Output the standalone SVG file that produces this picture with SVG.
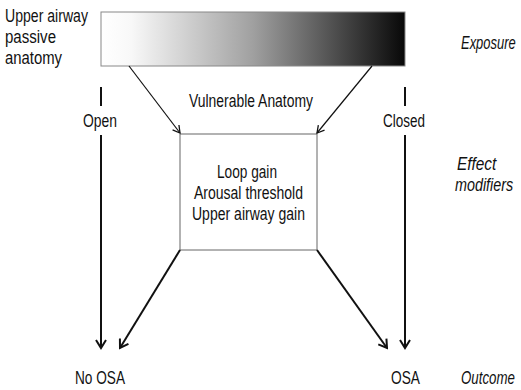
<svg xmlns="http://www.w3.org/2000/svg" width="521" height="390" viewBox="0 0 521 390">
<defs>
<linearGradient id="grad" x1="0" y1="0" x2="1" y2="0">
<stop offset="0" stop-color="#ffffff"/>
<stop offset="0.1" stop-color="#f8f8f8"/>
<stop offset="0.5" stop-color="#a0a0a0"/>
<stop offset="1" stop-color="#080808"/>
</linearGradient>
<marker id="ah" markerWidth="12" markerHeight="12" refX="10" refY="6" orient="auto" markerUnits="userSpaceOnUse">
<path d="M2,1 L10,6 L2,11" fill="none" stroke="#111" stroke-width="2"/>
</marker>
<marker id="ahs" markerWidth="12" markerHeight="12" refX="10" refY="6" orient="auto" markerUnits="userSpaceOnUse">
<path d="M3,2 L10,6 L3,10" fill="none" stroke="#111" stroke-width="1.3"/>
</marker>
</defs>
<style>
text{font-family:"Liberation Sans",Arial,sans-serif;font-size:17.5px;fill:#111}
.it{font-style:italic}
.c{text-anchor:middle}
.thick{stroke:#111;stroke-width:2;fill:none}
.thin{stroke:#111;stroke-width:1.2;fill:none}
</style>
<g id="exposure-bar">
<rect x="101" y="12" width="304" height="54" fill="url(#grad)" stroke="#888" stroke-width="1"/>
</g>
<g id="anatomy-label">
<text x="5" y="22" textLength="83" lengthAdjust="spacingAndGlyphs">Upper airway</text>
<text x="5" y="43" textLength="51" lengthAdjust="spacingAndGlyphs">passive</text>
<text x="5" y="64" textLength="57" lengthAdjust="spacingAndGlyphs">anatomy</text>
</g>
<g id="modifiers-box">
<rect x="180" y="134" width="137" height="116" fill="#fff" stroke="#666" stroke-width="1"/>
<text x="247" y="178" class="c" textLength="60" lengthAdjust="spacingAndGlyphs">Loop gain</text>
<text x="248.5" y="199" class="c" textLength="109" lengthAdjust="spacingAndGlyphs">Arousal threshold</text>
<text x="248.5" y="220" class="c" textLength="113" lengthAdjust="spacingAndGlyphs">Upper airway gain</text>
</g>
<g id="labels">
<text x="251" y="107" class="c" textLength="124" lengthAdjust="spacingAndGlyphs">Vulnerable Anatomy</text>
<text x="83" y="127" textLength="34" lengthAdjust="spacingAndGlyphs">Open</text>
<text x="383" y="127" textLength="42" lengthAdjust="spacingAndGlyphs">Closed</text>
<text x="75" y="384" textLength="50" lengthAdjust="spacingAndGlyphs">No OSA</text>
<text x="391" y="384" textLength="29" lengthAdjust="spacingAndGlyphs">OSA</text>
<text class="it" transform="translate(461,49) scale(0.74,1)">Exposure</text>
<text class="it" transform="translate(457,170) scale(0.88,1)">Effect</text>
<text class="it" transform="translate(455,191) scale(0.82,1)">modifiers</text>
<text class="it" transform="translate(461,384) scale(0.76,1)">Outcome</text>
</g>
<g id="connectors">
<line x1="101" y1="87" x2="101" y2="106" class="thick"/>
<line x1="101" y1="135" x2="101" y2="348" class="thick" marker-end="url(#ah)"/>
<line x1="405" y1="87" x2="405" y2="106" class="thick"/>
<line x1="405" y1="135" x2="405" y2="348" class="thick" marker-end="url(#ah)"/>
<line x1="129" y1="66" x2="180" y2="133" class="thin" marker-end="url(#ahs)"/>
<line x1="372" y1="66" x2="317" y2="133" class="thin" marker-end="url(#ahs)"/>
<line x1="180" y1="250" x2="120" y2="348" class="thick" marker-end="url(#ah)"/>
<line x1="317" y1="250" x2="387" y2="348" class="thick" marker-end="url(#ah)"/>
</g>
</svg>
